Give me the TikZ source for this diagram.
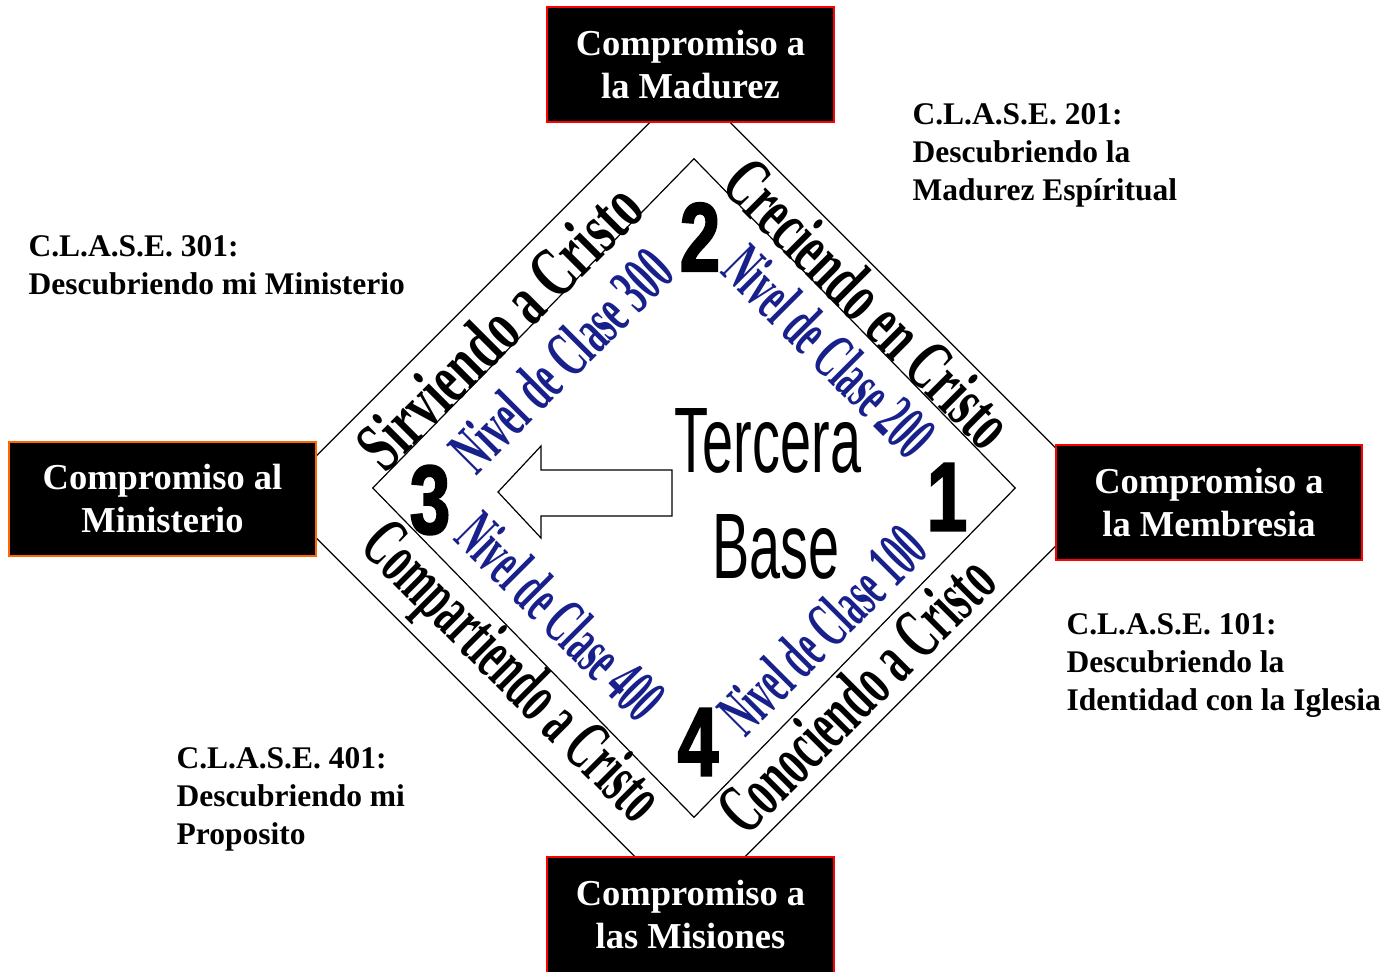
\documentclass[tikz,border=0pt]{standalone}
\usepackage{fontspec}
\setmainfont{Liberation Serif}
\newfontfamily\estrecha[FakeStretch=0.6]{Liberation Sans}
\newfontfamily\gruesa[FakeStretch=0.74,BoldFeatures={FakeBold=2}]{Liberation Sans}
\usetikzlibrary{shapes.geometric}
\definecolor{marino}{RGB}{24,32,140}
\definecolor{naranja}{RGB}{255,102,0}

\begin{document}
\begin{tikzpicture}[x=1pt,y=1pt,line width=1.2pt,
  caja/.style={draw=red,line width=1.5pt,fill=black,text=white,align=center,inner sep=0,
    font=\bfseries\fontsize{36.5}{43}\selectfont,minimum width=287pt,minimum height=115pt},
  camino/.style={font=\bfseries\fontsize{72}{72}\selectfont,inner sep=0},
  nivel/.style={text=marino,font=\bfseries\fontsize{66}{66}\selectfont,inner sep=0},
  numero/.style={font=\gruesa\bfseries\fontsize{98}{98}\selectfont,inner sep=0},
  clase/.style={font=\bfseries\fontsize{31.5}{38}\selectfont,align=left,anchor=north west,inner sep=0}]
\useasboundingbox (0,0) rectangle (1393,-972);
\node (rombo) at (690,-497) [draw,diamond,minimum width=830pt,minimum height=830pt,inner sep=0] {};
\node (base) at (694,-488) [draw,diamond,minimum width=643pt,minimum height=659pt,inner sep=0] {};
\node (madurez) at (690.5,-64.5) [caja] {Compromiso a\\la Madurez};
\node (ministerio) at (162.5,-499) [caja,draw=naranja,minimum width=307pt,minimum height=114pt] {Compromiso al\\Ministerio};
\node (membresia) at (1209,-502.5) [caja,minimum width=306pt] {Compromiso a\\la Membresia};
\node (misiones) at (690.5,-915) [caja,minimum height=116pt] {Compromiso a\\las Misiones};
\draw[fill=white] (672,-470) -- (541,-470) -- (541,-446) -- (498,-492) -- (541,-538) -- (541,-516) -- (672,-516) -- cycle;
\node (tercera) at (768,-441) [font=\estrecha\fontsize{93}{93}\selectfont,inner sep=0] {Tercera};
\node (base) at (776,-547) [font=\estrecha\fontsize{93}{93}\selectfont,inner sep=0] {Base};
\node (uno) at (947,-497) [numero] {1};
\node (dos) at (700,-237) [numero] {2};
\node (tres) at (430,-500) [numero] {3};
\node (cuatro) at (698,-742) [numero] {4};
\node (sirviendo) at (499,-326) [camino,rotate=45] {\scalebox{0.66}[1]{Sirviendo a Cristo}};
\node (creciendo) at (869,-303) [camino,rotate=-45] {\scalebox{0.61}[1]{Creciendo en Cristo}};
\node (compartiendo) at (509,-675) [camino,rotate=-45] {\scalebox{0.55}[1]{Compartiendo a Cristo}};
\node (conociendo) at (856,-694) [camino,rotate=45] {\scalebox{0.57}[1]{Conociendo a Cristo}};
\node (n300) at (561,-360) [nivel,rotate=45] {\scalebox{0.55}[1]{Nivel de Clase 300}};
\node (n200) at (830,-351) [nivel,rotate=-45] {\scalebox{0.52}[1]{Nivel de Clase 200}};
\node (n400) at (561,-616) [nivel,rotate=-45] {\scalebox{0.51}[1]{Nivel de Clase 400}};
\node (n100) at (822,-630) [nivel,rotate=45] {\scalebox{0.51}[1]{Nivel de Clase 100}};
\node (c201) at (912,-102.5) [clase] {C.L.A.S.E. 201:\\Descubriendo la\\Madurez Espíritual};
\node (c301) at (28,-234.5) [clase] {C.L.A.S.E. 301:\\Descubriendo mi Ministerio};
\node (c101) at (1066,-612.5) [clase] {C.L.A.S.E. 101:\\Descubriendo la\\Identidad con la Iglesia};
\node (c401) at (176,-746.5) [clase] {C.L.A.S.E. 401:\\Descubriendo mi\\Proposito};
\end{tikzpicture}
\end{document}
